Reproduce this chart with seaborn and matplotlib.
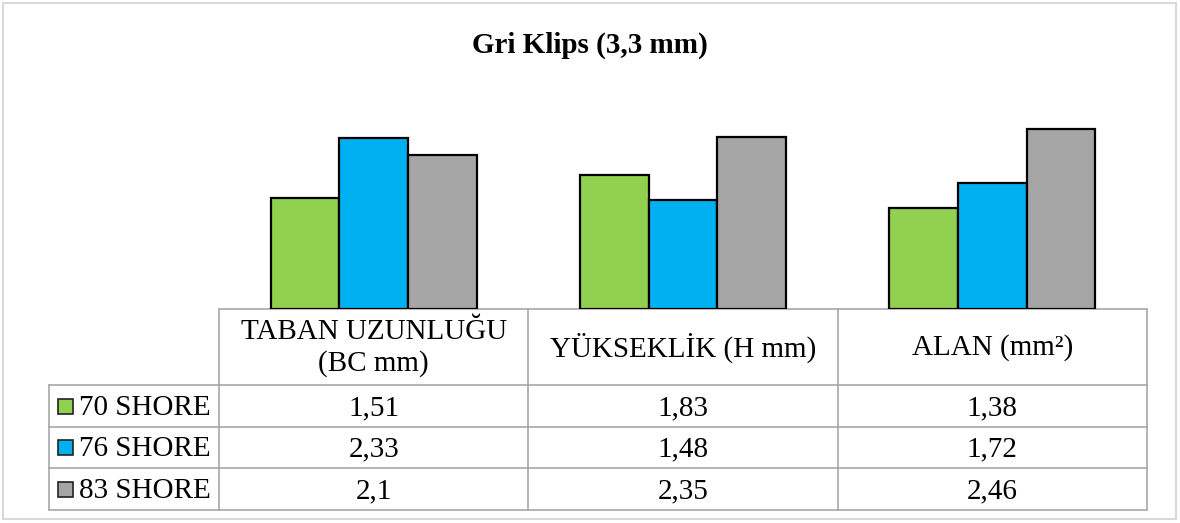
import numpy as np
import pandas as pd
import matplotlib
matplotlib.use("Agg")
import matplotlib.pyplot as plt
import seaborn as sns
from matplotlib.patches import Rectangle

# --- data ---
title = "Gri Klips (3,3 mm)"
categories = ["TABAN UZUNLUĞU\n(BC mm)", "YÜKSEKLİK (H mm)", "ALAN (mm²)"]
series = ["70 SHORE", "76 SHORE", "83 SHORE"]
shore70 = [1.51, 1.83, 1.38]
shore76 = [2.33, 1.48, 1.72]
shore83 = [2.10, 2.35, 2.46]
value_labels = [["1,51", "1,83", "1,38"],
                ["2,33", "1,48", "1,72"],
                ["2,1", "2,35", "2,46"]]
colors = ["#92D050", "#00B0F0", "#A5A5A5"]

df = pd.DataFrame({
    "category": categories * 3,
    "series": np.repeat(series, 3),
    "value": shore70 + shore76 + shore83,
})

sns.set_theme(style="white")
plt.rcParams["font.family"] = ["Liberation Serif", "DejaVu Serif"]
plt.rcParams["text.color"] = "black"

W, H = 1180, 523
fig = plt.figure(figsize=(W / 100, H / 100), dpi=100)

# background axes in pixel coordinates for frame, title and data table
bg = fig.add_axes([0, 0, 1, 1])
bg.set_xlim(0, W)
bg.set_ylim(H, 0)
bg.axis("off")

bg.add_patch(Rectangle((3, 3), W - 7, H - 7, fill=False, edgecolor="#D9D9D9", lw=1.5))
bg.text(590, 45, title, ha="center", va="center", fontsize=21, fontweight="bold")

# layout of plot area / table (pixels)
x_left, x_right = 219, 1147
y_base, y_top = 309, 89
leg_left = 49
row_edges = [309, 385, 427, 468, 510]
col_w = (x_right - x_left) / len(categories)
col_edges = [x_left + i * col_w for i in range(len(categories) + 1)]

# main bar axes
ax = fig.add_axes([x_left / W, (H - y_base) / H, (x_right - x_left) / W, (y_base - y_top) / H])
sns.barplot(data=df, x="category", y="value", hue="series", palette=colors,
            width=2 / 3, gap=0, edgecolor="black", linewidth=1.6,
            legend=False, ax=ax, saturation=1)
ax.set_xlim(-0.5, len(categories) - 0.5)
ax.set_ylim(0, 3)
ax.axis("off")

# table lines
lc = "#A0A0A0"
lw = 1.1
bg.plot([x_left, x_right], [row_edges[0]] * 2, color=lc, lw=lw)
for y in row_edges[1:]:
    bg.plot([leg_left, x_right], [y, y], color=lc, lw=lw)
bg.plot([leg_left, leg_left], [row_edges[1], row_edges[-1]], color=lc, lw=lw)
for x in col_edges:
    bg.plot([x, x], [row_edges[0], row_edges[-1]], color=lc, lw=lw)

fs = 21
# header texts
for i, cat in enumerate(categories):
    cx = (col_edges[i] + col_edges[i + 1]) / 2
    cy = (row_edges[0] + row_edges[1]) / 2
    bg.text(cx, cy + 1, cat, ha="center", va="center", fontsize=fs, linespacing=1.2)

# rows: legend key + values
for r, name in enumerate(series):
    cy = (row_edges[r + 1] + row_edges[r + 2]) / 2
    bg.add_patch(Rectangle((58, cy - 7.5), 15, 15, facecolor=colors[r],
                           edgecolor="#222222", lw=1.2))
    bg.text(79, cy + 2, name, ha="left", va="center", fontsize=fs)
    for i in range(len(categories)):
        cx = (col_edges[i] + col_edges[i + 1]) / 2
        bg.text(cx, cy + 2, value_labels[r][i], ha="center", va="center", fontsize=fs)

fig.savefig("out.png", dpi=100)
